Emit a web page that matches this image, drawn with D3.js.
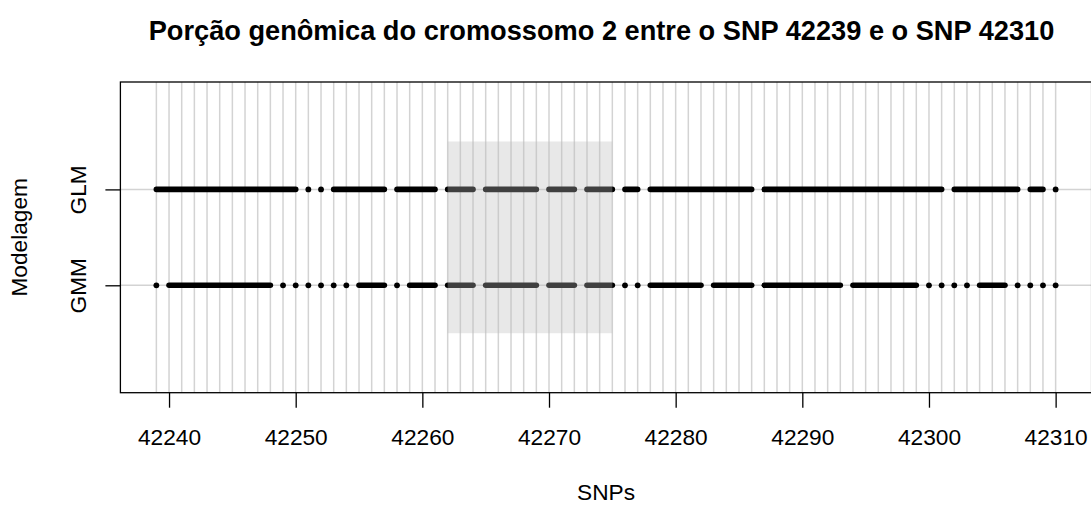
<!DOCTYPE html>
<html>
<head>
<meta charset="utf-8">
<script src="https://cdn.jsdelivr.net/npm/d3@7"></script>
<style>
  html, body { margin: 0; padding: 0; background: #ffffff; }
  svg { display: block; font-family: "Liberation Sans", Arial, Helvetica, sans-serif; }
</style>
</head>
<body>
<svg id="chart" width="1091" height="505"></svg>
<script>
// ---------------- data ----------------
const titleText = "Porção genômica do cromossomo 2 entre o SNP 42239 e o SNP 42310";
const xTitle = "SNPs";
const yTitle = "Modelagem";
const snpFirst = 42239;
const snpLast = 42310;
const xTicks = [42240, 42250, 42260, 42270, 42280, 42290, 42300, 42310];
const models = ["GLM", "GMM"];
const modelRows = [2, 1];
// contiguous blocks [start SNP, end SNP] for each model
const glmBlocks = [
  [42239, 42250], [42251, 42251], [42252, 42252], [42253, 42257], [42258, 42261],
  [42262, 42264], [42265, 42269], [42270, 42272], [42273, 42275], [42276, 42277],
  [42278, 42286], [42287, 42301], [42302, 42307], [42308, 42309], [42310, 42310]
];
const gmmBlocks = [
  [42239, 42239], [42240, 42248], [42249, 42249], [42250, 42250], [42251, 42251],
  [42252, 42252], [42253, 42253], [42254, 42254], [42255, 42257], [42258, 42258],
  [42259, 42261], [42262, 42264], [42265, 42269], [42270, 42272], [42273, 42275],
  [42276, 42276], [42277, 42277], [42278, 42282], [42283, 42286], [42287, 42293],
  [42294, 42299], [42300, 42300], [42301, 42301], [42302, 42302], [42303, 42303],
  [42304, 42306], [42307, 42307], [42308, 42308], [42309, 42309], [42310, 42310]
];
const highlightX = [42262, 42275];
const highlightY = [0.5, 2.5];
const yLimits = [0, 3];

// ---------------- layout ----------------
const svg = d3.select("#chart");
const plot = { left: 120.4, right: 1091.6, top: 82, bottom: 392.7 };
const xPad = (snpLast - snpFirst) * 0.04;
const yPad = (yLimits[1] - yLimits[0]) * 0.04;
const x = d3.scaleLinear().domain([snpFirst - xPad, snpLast + xPad]).range([plot.left, plot.right]);
const y = d3.scaleLinear().domain([yLimits[0] - yPad, yLimits[1] + yPad]).range([plot.bottom, plot.top]);

const gridColor = "#d3d3d3";
const fontSize = 22.7;

// vertical grid lines at every SNP
const snps = d3.range(snpFirst, snpLast + 1);
svg.append("g").selectAll("line").data(snps).join("line")
  .attr("x1", d => x(d)).attr("x2", d => x(d))
  .attr("y1", plot.top).attr("y2", plot.bottom)
  .attr("stroke", gridColor).attr("stroke-width", 1.5);

// horizontal grid lines at each model row
svg.append("g").selectAll("line").data(modelRows).join("line")
  .attr("x1", plot.left).attr("x2", plot.right)
  .attr("y1", d => y(d)).attr("y2", d => y(d))
  .attr("stroke", gridColor).attr("stroke-width", 1.5);

// blocks
const series = [
  { row: modelRows[0], blocks: glmBlocks },
  { row: modelRows[1], blocks: gmmBlocks }
];
series.forEach(s => {
  const g = svg.append("g");
  const seg = s.blocks.filter(b => b[1] > b[0]);
  const pts = s.blocks.filter(b => b[1] === b[0]);
  g.selectAll("line").data(seg).join("line")
    .attr("x1", d => x(d[0])).attr("x2", d => x(d[1]))
    .attr("y1", y(s.row)).attr("y2", y(s.row))
    .attr("stroke", "#000").attr("stroke-width", 5.6).attr("stroke-linecap", "round");
  g.selectAll("circle").data(pts).join("circle")
    .attr("cx", d => x(d[0])).attr("cy", y(s.row)).attr("r", 2.9)
    .attr("fill", "#000");
});

// highlighted region (semi-transparent, drawn on top)
svg.append("rect")
  .attr("x", x(highlightX[0])).attr("width", x(highlightX[1]) - x(highlightX[0]))
  .attr("y", y(highlightY[1])).attr("height", y(highlightY[0]) - y(highlightY[1]))
  .attr("fill", "#bbbbbb").attr("fill-opacity", 0.34);

// box
svg.append("rect")
  .attr("x", plot.left).attr("y", plot.top)
  .attr("width", plot.right - plot.left).attr("height", plot.bottom - plot.top)
  .attr("fill", "none").attr("stroke", "#000").attr("stroke-width", 1.3);

// x axis
const xAxis = d3.axisBottom(x).tickValues(xTicks).tickFormat(d3.format("d")).tickSize(15).tickPadding(21);
const gx = svg.append("g").attr("transform", `translate(0,${plot.bottom})`).call(xAxis);
gx.select(".domain").remove();
gx.selectAll(".tick line").attr("stroke", "#000").attr("stroke-width", 1.3);
gx.selectAll(".tick text").attr("font-size", fontSize).attr("fill", "#000")
  .attr("font-family", "Liberation Sans, Arial, sans-serif");

// y axis
const yAxis = d3.axisLeft(y).tickValues(modelRows).tickFormat((d, i) => models[i]).tickSize(15).tickPadding(8);
const gy = svg.append("g").attr("transform", `translate(${plot.left},0)`).call(yAxis);
gy.select(".domain").remove();
gy.selectAll(".tick line").attr("stroke", "#000").attr("stroke-width", 1.3);
gy.selectAll(".tick text").attr("font-size", fontSize).attr("fill", "#000")
  .attr("font-family", "Liberation Sans, Arial, sans-serif")
  .attr("text-anchor", "middle").attr("dy", null)
  .attr("x", null)
  .attr("transform", "translate(-34,0) rotate(-90)");

// titles
svg.append("text").attr("x", 601.5).attr("y", 40)
  .attr("text-anchor", "middle").attr("font-weight", "bold").attr("font-size", 27.2)
  .text(titleText);
svg.append("text").attr("x", (plot.left + plot.right) / 2).attr("y", 500)
  .attr("text-anchor", "middle").attr("font-size", fontSize)
  .text(xTitle);
svg.append("text").attr("transform", `translate(27,${(plot.top + plot.bottom) / 2}) rotate(-90)`)
  .attr("text-anchor", "middle").attr("font-size", fontSize)
  .text(yTitle);
</script>
</body>
</html>
